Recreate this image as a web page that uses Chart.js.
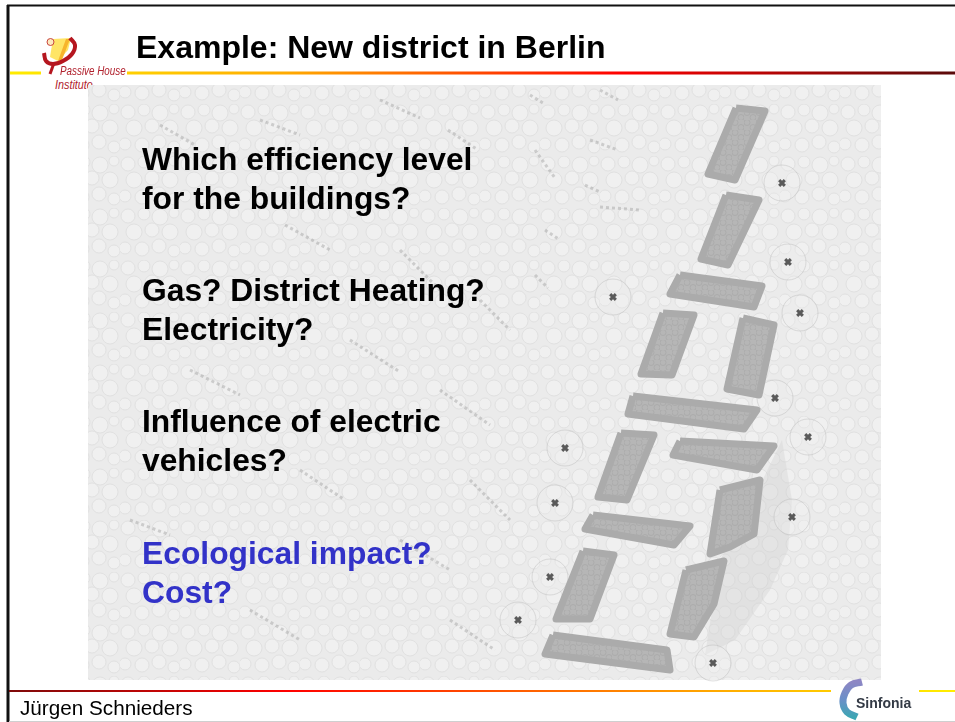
<!DOCTYPE html>
<html>
<head>
<meta charset="utf-8">
<title>Example: New district in Berlin</title>
<script src="https://cdn.jsdelivr.net/npm/chart.js@4"></script>
<style>
    html, body { margin: 0; padding: 0; background: #fff; overflow: hidden; }
    #slide { position: relative; width: 955px; height: 722px; font-family: "Liberation Sans", Arial, sans-serif; }
    #slide canvas { position: absolute; left: 0; top: 0; z-index: 2; }
    .txt { position: absolute; white-space: nowrap; z-index: 3; }
    .under { z-index: 1; }
    .title { left: 136px; top: 29px; font-size: 32px; font-weight: 700; color: #000; }
    .q { left: 142px; font-size: 31.8px; font-weight: 700; line-height: 38.5px; color: #000; }
    .blue { color: #3232c8; }
    .ph { font-style: italic; font-size: 12px; color: #b0202c; transform: scaleX(0.82); transform-origin: left top; }
    .foot { left: 20px; top: 696px; font-size: 20.7px; color: #000; }
    .sin { left: 856px; top: 695px; font-size: 14px; font-weight: 700; color: #333a45; }
</style>
</head>
<body>
<div id="slide">
    <div class="txt ph" id="ph1" style="left:60px; top:64px;"></div>
    <div class="txt ph under" id="ph2" style="left:55px; top:78px; transform:scaleX(0.9);"></div>
    <canvas id="slideChart" width="955" height="722"></canvas>
    <div class="txt title" id="title"></div>
    <div class="txt q" id="q1" style="top:140px;"></div>
    <div class="txt q" id="q2" style="top:271px;"></div>
    <div class="txt q" id="q3" style="top:402px;"></div>
    <div class="txt q blue" id="q4" style="top:534px;"></div>
    <div class="txt foot" id="foot"></div>
    <div class="txt sin" id="sin"></div>
</div>

<script>
// texts
const titleText = 'Example: New district in Berlin';
const questions = [
    ['Which efficiency level', 'for the buildings?'],
    ['Gas? District Heating?', 'Electricity?'],
    ['Influence of electric', 'vehicles?'],
    ['Ecological impact?', 'Cost?']
];
const footerText = 'Jürgen Schnieders';
const sinfoniaText = 'Sinfonia';
const instituteLines = ['Passive House', 'Institute'];

const photoArea = [[88, 85], [881, 85], [881, 680], [88, 680]];
const greenBelt = [[782, 440], [792, 500], [788, 550], [770, 590], [735, 640], [705, 655], [720, 560], [765, 475]];

const buildingA = [[736, 108], [765, 111], [735, 180], [708, 174]];
const buildingB = [[726, 195], [759, 200], [728, 265], [701, 259]];
const buildingC = [[680, 275], [762, 286], [754, 307], [670, 294]];
const buildingD = [[663, 313], [694, 315], [672, 375], [641, 374]];
const buildingE = [[743, 318], [774, 325], [759, 395], [727, 389]];
const buildingF = [[633, 396], [757, 410], [744, 429], [628, 414]];
const buildingG = [[621, 433], [654, 435], [627, 500], [598, 497]];
const buildingH = [[680, 441], [774, 446], [757, 470], [673, 455]];
const buildingI = [[720, 490], [760, 480], [754, 534], [730, 547], [710, 554]];
const buildingJ = [[593, 515], [690, 526], [674, 545], [585, 529]];
const buildingK = [[583, 551], [614, 555], [590, 619], [556, 619]];
const buildingL = [[686, 570], [724, 561], [714, 604], [694, 637], [670, 634]];
const buildingM = [[553, 635], [667, 650], [670, 670], [545, 654]];
const buildings = [buildingA, buildingB, buildingC, buildingD, buildingE, buildingF, buildingG,
    buildingH, buildingI, buildingJ, buildingK, buildingL, buildingM];

const treeCentres = [[782, 183], [788, 262], [800, 313], [613, 297], [775, 398], [808, 437],
    [565, 448], [555, 503], [792, 517], [550, 577], [518, 620], [713, 663]];

const streaks = [
    [[530, 95], [543, 103]], [[600, 90], [618, 100]], [[590, 140], [618, 150]], [[535, 150], [555, 178]],
    [[585, 185], [600, 192]], [[600, 207], [640, 210]], [[448, 130], [478, 150]], [[380, 100], [420, 118]],
    [[260, 120], [300, 135]], [[160, 125], [195, 145]], [[285, 225], [330, 250]], [[400, 250], [440, 290]],
    [[545, 230], [560, 240]], [[480, 300], [510, 330]], [[535, 275], [548, 288]], [[350, 340], [400, 372]],
    [[190, 370], [240, 395]], [[440, 390], [490, 425]], [[300, 470], [345, 500]], [[470, 480], [510, 520]],
    [[130, 520], [170, 535]], [[400, 540], [450, 570]], [[250, 610], [300, 640]], [[450, 620], [495, 650]]
];

const headLineLeft = [[10, 73], [41, 73]];
const headLineRight = [[127, 73], [955, 73]];
const footLineLeft = [[9, 691], [831, 691]];
const footLineRight = [[919, 691], [955, 691]];
const frameTop = [[7, 5.5], [955, 5.5]];
const frameLeft = [[8, 5], [8, 722]];
const frameBottom = [[9, 721.5], [955, 721.5]];

const logoWedge = [[53, 39], [71, 38], [68, 50], [58, 61], [50, 57]];
const logoBand = [[66, 39], [70, 39], [62, 60], [58, 61]];
const logoCurve = [[70, 38], [75, 45], [72, 54], [63, 61], [53, 64], [46, 61], [44, 53]];
const logoStem = [[54, 63], [50, 74]];
const logoCircle = [[50.5, 42]];
const sinfoniaArc = [[862, 682], [851, 685], [845, 693], [843, 703], [847, 712], [857, 717]];

function xy(pts) {
    return pts.map(p => ({ x: p[0], y: p[1] }));
}

function closed(pts) {
    return xy(pts.concat([pts[0]]));
}

// photo texture: pale bubbles
function bubbleTile(ctx) {
    const tile = document.createElement('canvas');
    tile.width = 60; tile.height = 52;
    const t = tile.getContext('2d');
    t.fillStyle = '#ebebeb';
    t.fillRect(0, 0, 60, 52);
    const dots = [[8, 8, 7], [24, 6, 6], [40, 9, 8], [54, 5, 5], [14, 24, 8], [32, 22, 7], [50, 24, 8],
        [5, 40, 6], [22, 41, 7], [39, 38, 7], [54, 43, 6]];
    dots.forEach(d => {
        t.beginPath();
        t.arc(d[0], d[1], d[2], 0, Math.PI * 2);
        t.fillStyle = '#f0f0f0';
        t.fill();
        t.strokeStyle = '#e1e1e1';
        t.stroke();
    });
    return ctx.createPattern(tile, 'repeat');
}

// building texture: small dark cells
function cellTile(ctx) {
    const tile = document.createElement('canvas');
    tile.width = 12; tile.height = 10;
    const t = tile.getContext('2d');
    t.fillStyle = '#b6b6b6';
    t.fillRect(0, 0, 12, 10);
    t.strokeStyle = '#acacac';
    [[3, 2.5], [9, 7.5]].forEach(d => {
        t.beginPath();
        t.arc(d[0], d[1], 3, 0, Math.PI * 2);
        t.stroke();
    });
    return ctx.createPattern(tile, 'repeat');
}

window.onload = function () {
    document.getElementById('title').textContent = titleText;
    questions.forEach((q, i) => {
        document.getElementById('q' + (i + 1)).innerHTML = q.join('<br>');
    });
    document.getElementById('foot').textContent = footerText;
    document.getElementById('sin').textContent = sinfoniaText;
    document.getElementById('ph1').textContent = instituteLines[0];
    document.getElementById('ph2').textContent = instituteLines[1];

    const canvas = document.getElementById('slideChart');
    const ctx = canvas.getContext('2d');

    const headGrad = ctx.createLinearGradient(0, 0, 955, 0);
    headGrad.addColorStop(0, '#ffee00');
    headGrad.addColorStop(0.3, '#ffaa00');
    headGrad.addColorStop(0.65, '#ff0000');
    headGrad.addColorStop(1, '#5a0a0a');

    const footGrad = ctx.createLinearGradient(0, 0, 955, 0);
    footGrad.addColorStop(0, '#7a0a0a');
    footGrad.addColorStop(0.3, '#ff0000');
    footGrad.addColorStop(0.75, '#ffaa00');
    footGrad.addColorStop(1, '#ffee00');

    const arcGrad = ctx.createLinearGradient(0, 682, 0, 717);
    arcGrad.addColorStop(0, '#8d86c4');
    arcGrad.addColorStop(0.5, '#6a8fc8');
    arcGrad.addColorStop(1, '#3ea6b4');

    const bubbles = bubbleTile(ctx);
    const cells = cellTile(ctx);

    function line(pts, color, width, extra) {
        return Object.assign({ data: xy(pts), showLine: true, borderColor: color, borderWidth: width, pointRadius: 0, fill: false }, extra || {});
    }
    function shape(pts, fillColor, edge, width, extra) {
        return Object.assign({ data: closed(pts), showLine: true, backgroundColor: fillColor, borderColor: edge, borderWidth: width, pointRadius: 0, fill: 'shape' }, extra || {});
    }

    // later entries paint on top
    const datasets = [
        shape(photoArea, bubbles, 'rgba(0,0,0,0)', 0),
        shape(greenBelt, 'rgba(205,205,205,0.35)', 'rgba(0,0,0,0)', 0)
    ];
    streaks.forEach(s => datasets.push(line(s, 'rgba(150,150,150,0.4)', 3, { borderDash: [3, 3] })));
    treeCentres.forEach(c => datasets.push({
        data: xy([c]), pointRadius: 18, pointBackgroundColor: 'rgba(240,240,240,0.3)',
        pointBorderColor: 'rgba(170,170,170,0.35)', pointBorderWidth: 1
    }));
    buildings.forEach(b => datasets.push(shape(b, cells, '#ababab', 7, { borderJoinStyle: 'round' })));
    datasets.push({
        data: xy(treeCentres), pointRadius: 4, pointStyle: 'crossRot', pointBorderColor: '#5a5a5a',
        pointBorderWidth: 3, pointBackgroundColor: '#5a5a5a'
    });
    datasets.push(line(frameTop, '#111', 2));
    datasets.push(line(frameLeft, '#111', 3));
    datasets.push(line(frameBottom, '#cfcfcf', 1));
    datasets.push(line(headLineLeft, headGrad, 3));
    datasets.push(line(headLineRight, headGrad, 3));
    datasets.push(line(footLineLeft, footGrad, 2));
    datasets.push(line(footLineRight, footGrad, 2));
    datasets.push(shape(logoWedge, '#ffe566', 'rgba(0,0,0,0)', 0));
    datasets.push(shape(logoBand, '#f7b52c', 'rgba(0,0,0,0)', 0));
    datasets.push(line(logoCurve, '#b5161f', 4, { tension: 0.4 }));
    datasets.push(line(logoStem, '#b5161f', 3));
    datasets.push({
        data: xy(logoCircle), pointRadius: 3.5, pointBackgroundColor: '#fde9c0',
        pointBorderColor: '#c8443c', pointBorderWidth: 1
    });
    datasets.push(line(sinfoniaArc, arcGrad, 7, { tension: 0.4 }));

    datasets.forEach((d, i) => { d.order = -i; });

    new Chart(canvas, {
        type: 'scatter',
        data: { datasets: datasets },
        options: {
            responsive: false,
            animation: false,
            events: [],
            layout: { padding: 0, autoPadding: false },
            plugins: { legend: { display: false }, tooltip: { enabled: false } },
            scales: {
                x: { type: 'linear', min: 0, max: 955, display: false },
                y: { type: 'linear', min: 0, max: 722, reverse: true, display: false }
            }
        }
    });
};
</script>
</body>
</html>
